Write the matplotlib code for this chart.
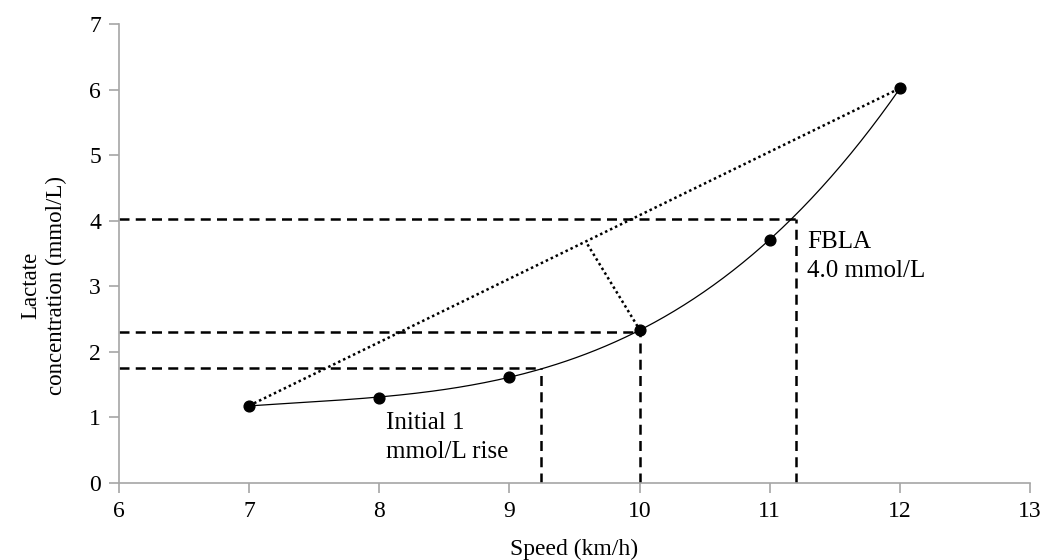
import matplotlib.pyplot as plt
import numpy as np

plt.rcParams['font.family'] = ['Liberation Serif', 'DejaVu Serif']

speed = [7, 8, 9, 10, 11, 12]
lactate = [1.18, 1.30, 1.62, 2.34, 3.70, 6.02]

# threshold markers
fbla_speed, fbla_lac = 11.2, 4.03
dmax_speed, dmax_lac = 10.0, 2.3
rise_speed, rise_lac = 9.24, 1.75
dmax_foot = (9.6, 3.64)

# polynomial trendline through the points
coef = np.polyfit(speed, lactate, 3)
xs = np.linspace(7, 12, 200)
ys = np.polyval(coef, xs)

fig = plt.figure(figsize=(10.45, 5.6), dpi=100)
ax = fig.add_axes([0.1139, 0.1375, 0.8717, 0.8195])

ax.plot(xs, ys, color='black', lw=0.9)
ax.plot([speed[0], speed[-1]], [lactate[0], lactate[-1]], color='black', lw=1.8, ls=(0, (1, 1.2)))
ax.plot([dmax_foot[0], speed[3]], [dmax_foot[1], lactate[3]], color='black', lw=1.8, ls=(0, (1, 1.2)))
ax.scatter(speed, lactate, color='black', s=60, zorder=3)

dash = (0, (4, 2.5))
for sx, ly in [(fbla_speed, fbla_lac), (dmax_speed, dmax_lac), (rise_speed, rise_lac)]:
    ax.plot([6, sx], [ly, ly], color='black', lw=1.8, ls=dash)
    ax.plot([sx, sx], [0, ly], color='black', lw=1.8, ls=dash)

ax.text(11.29, 3.45, 'FBLA\n4.0 mmol/L', fontsize=18, va='center', linespacing=1.4)
ax.text(8.05, 0.70, 'Initial 1\nmmol/L rise', fontsize=18, va='center', linespacing=1.4)

ax.set_xlim(6, 13)
ax.set_ylim(0, 7)
ax.set_xticks(range(6, 14))
ax.set_yticks(range(0, 8))
for s in ['top', 'right']:
    ax.spines[s].set_visible(False)
for s in ['left', 'bottom']:
    ax.spines[s].set_color('#a6a6a6')
    ax.spines[s].set_linewidth(1.2)
ax.tick_params(colors='#a6a6a6', labelcolor='black', labelsize=17, length=7, width=1.2, pad=6)
ax.set_xlabel('Speed (km/h)', fontsize=17, labelpad=12)
ax.set_ylabel('Lactate\nconcentration (mmol/L)', fontsize=16.5, linespacing=1.3)
ax.yaxis.set_label_coords(-0.057, 0.43)

fig.savefig('out.png', dpi=100)
